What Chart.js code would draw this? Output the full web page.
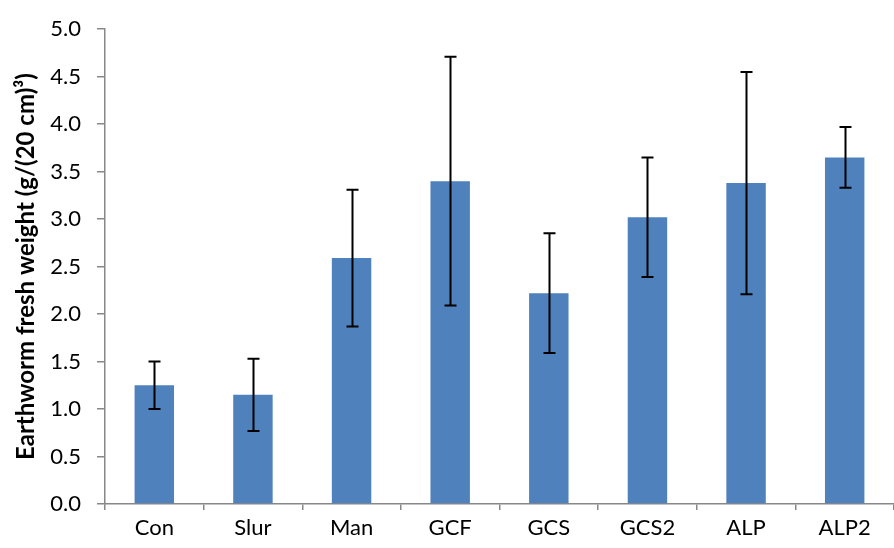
<!DOCTYPE html>
<html>
<head>
<meta charset="utf-8">
<script src="https://cdn.jsdelivr.net/npm/chart.js@4/dist/chart.umd.min.js"></script>
<style>
    html, body { margin: 0; padding: 0; background: #fff; }
    #wrap { width: 894px; height: 548px; }
</style>
</head>
<body>
<div id="wrap"><canvas id="chart" width="894" height="548"></canvas></div>
<script>
// Data
const categories = ['Con', 'Slur', 'Man', 'GCF', 'GCS', 'GCS2', 'ALP', 'ALP2'];
const freshWeight = [1.25, 1.15, 2.59, 3.40, 2.22, 3.02, 3.38, 3.65];
const errorSize = [0.25, 0.38, 0.72, 1.31, 0.63, 0.63, 1.17, 0.32];
const yTicks = [0.0, 0.5, 1.0, 1.5, 2.0, 2.5, 3.0, 3.5, 4.0, 4.5, 5.0];

const axisColor = '#888888';

// Error bars drawn from the scales
const errorBarPlugin = {
    id: 'errorBars',
    afterDatasetsDraw(chart) {
        const ctx = chart.ctx;
        const yScale = chart.scales.y;
        const meta = chart.getDatasetMeta(0);
        ctx.save();
        ctx.strokeStyle = '#000';
        ctx.lineWidth = 2;
        meta.data.forEach((bar, i) => {
            const v = freshWeight[i];
            const e = errorSize[i];
            const top = yScale.getPixelForValue(v + e);
            const bottom = yScale.getPixelForValue(v - e);
            const x = Math.round(bar.x) + 0.5;
            ctx.beginPath();
            ctx.moveTo(x, top);
            ctx.lineTo(x, bottom);
            ctx.moveTo(x - 6, top);
            ctx.lineTo(x + 6, top);
            ctx.moveTo(x - 6, bottom);
            ctx.lineTo(x + 6, bottom);
            ctx.stroke();
        });
        ctx.restore();
    }
};

const ctx = document.getElementById('chart').getContext('2d');
new Chart(ctx, {
    type: 'bar',
    data: {
        labels: categories,
        datasets: [{
            data: freshWeight,
            backgroundColor: '#4F81BD',
            borderWidth: 0,
            barPercentage: 0.4,
            categoryPercentage: 1.0
        }]
    },
    options: {
        responsive: false,
        animation: false,
        layout: {
            padding: { top: 15, right: 0, bottom: 0, left: 0 }
        },
        plugins: {
            legend: { display: false },
            tooltip: { enabled: false }
        },
        scales: {
            x: {
                offset: true,
                border: { display: true, color: axisColor, width: 1.5 },
                grid: {
                    display: true,
                    offset: true,
                    drawOnChartArea: false,
                    drawTicks: true,
                    tickLength: 6,
                    color: axisColor,
                    lineWidth: 1.5
                },
                ticks: {
                    color: '#000',
                    padding: 5,
                    font: { family: 'Lato', size: 22 }
                },
                afterFit(scale) {
                    scale.height = 44;
                }
            },
            y: {
                min: 0,
                max: 5,
                afterBuildTicks(scale) {
                    scale.ticks = yTicks.map(v => ({ value: v }));
                },
                border: { display: true, color: axisColor, width: 1.5 },
                grid: {
                    display: true,
                    drawOnChartArea: false,
                    drawTicks: true,
                    tickLength: 8,
                    color: axisColor,
                    lineWidth: 1.5
                },
                ticks: {
                    color: '#000',
                    padding: 16,
                    font: { family: 'Lato', size: 22 },
                    callback: (value) => Number(value).toFixed(1)
                },
                title: {
                    display: true,
                    text: 'Earthworm fresh weight (g/(20 cm)³)',
                    color: '#000',
                    padding: { top: 12, bottom: 0 },
                    font: { family: 'Lato', size: 24, weight: 'bold' }
                },
                afterFit(scale) {
                    scale.width = 105;
                }
            }
        }
    },
    plugins: [errorBarPlugin]
});
</script>
</body>
</html>
